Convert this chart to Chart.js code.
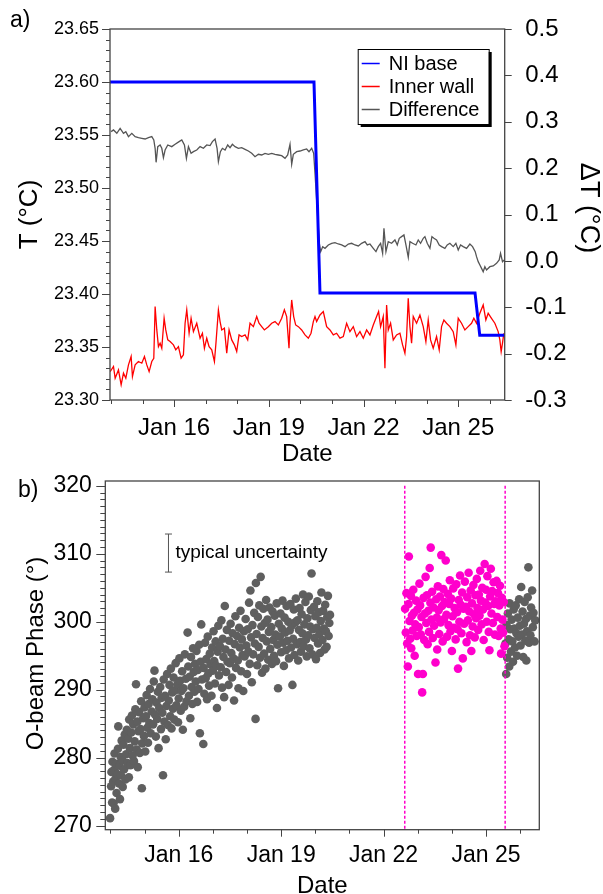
<!DOCTYPE html>
<html>
<head>
<meta charset="utf-8">
<script src="https://cdn.jsdelivr.net/npm/chart.js@4.4.1/dist/chart.umd.min.js"></script>
<style>
  html, body { margin: 0; padding: 0; background: #fff; }
  #wrap { position: relative; width: 603px; height: 894px; }
  canvas { position: absolute; left: 0; }
  #tempChart { top: 0; }
  #phaseChart { top: 470px; }
</style>
</head>
<body>
<div id="wrap">
  <canvas id="tempChart" width="603" height="470"></canvas>
  <canvas id="phaseChart" width="603" height="424"></canvas>
</div>
<script>
// x values are days of January (14.5 = Jan 14, 12:00)
const dayTicks = [14, 15, 16, 17, 18, 19, 20, 21, 22, 23, 24, 25, 26];
const labeledDays = [16, 19, 22, 25];
const tempTicks = [23.30, 23.35, 23.40, 23.45, 23.50, 23.55, 23.60, 23.65];
const deltaTicks = [-0.3, -0.2, -0.1, 0.0, 0.1, 0.2, 0.3, 0.4, 0.5];
const phaseTicks = [270, 280, 290, 300, 310, 320];

// panel a) NI base temperature, degC
const baseSeries = [
  [13.97, 23.600], [20.43, 23.600], [20.62, 23.401], [25.53, 23.401], [25.68, 23.361], [26.47, 23.361]
];

// panel a) inner wall temperature, degC
const wallSeries = [
  [13.975, 23.3268], [14.080, 23.3316], [14.133, 23.3206], [14.238, 23.3284], [14.323, 23.3143],
  [14.397, 23.3253], [14.471, 23.3206], [14.555, 23.3331], [14.639, 23.3410], [14.681, 23.3221],
  [14.766, 23.3331], [14.871, 23.3363], [14.977, 23.3347], [15.061, 23.3410], [15.135, 23.3331],
  [15.209, 23.3268], [15.293, 23.3363], [15.357, 23.3394], [15.399, 23.3881], [15.452, 23.3661],
  [15.504, 23.3504], [15.557, 23.3536], [15.610, 23.3488], [15.684, 23.3771], [15.736, 23.3661],
  [15.800, 23.3567], [15.873, 23.3551], [15.979, 23.3520], [16.053, 23.3473], [16.137, 23.3504],
  [16.222, 23.3394], [16.295, 23.3426], [16.348, 23.3724], [16.401, 23.3850], [16.475, 23.3630],
  [16.538, 23.3771], [16.612, 23.3645], [16.717, 23.3724], [16.823, 23.3583], [16.897, 23.3630],
  [16.960, 23.3488], [17.034, 23.3583], [17.108, 23.3504], [17.192, 23.3473], [17.277, 23.3363],
  [17.329, 23.3551], [17.403, 23.3850], [17.456, 23.3740], [17.509, 23.3661], [17.593, 23.3677],
  [17.667, 23.3441], [17.741, 23.3661], [17.825, 23.3567], [17.909, 23.3520], [17.983, 23.3457],
  [18.057, 23.3614], [18.141, 23.3598], [18.247, 23.3614], [18.331, 23.3567], [18.405, 23.3724],
  [18.511, 23.3692], [18.616, 23.3787], [18.690, 23.3724], [18.774, 23.3692], [18.859, 23.3661],
  [18.985, 23.3692], [19.091, 23.3724], [19.196, 23.3740], [19.302, 23.3708], [19.407, 23.3771],
  [19.492, 23.3850], [19.565, 23.3787], [19.639, 23.3488], [19.671, 23.3724], [19.724, 23.3944],
  [19.787, 23.3787], [19.850, 23.3708], [19.935, 23.3692], [20.040, 23.3661], [20.146, 23.3614],
  [20.251, 23.3583], [20.336, 23.3630], [20.409, 23.3740], [20.462, 23.3787], [20.514, 23.3740],
  [20.620, 23.3802], [20.725, 23.3834], [20.831, 23.3692], [20.936, 23.3661], [21.042, 23.3614],
  [21.147, 23.3630], [21.253, 23.3583], [21.358, 23.3598], [21.464, 23.3724], [21.569, 23.3645],
  [21.675, 23.3692], [21.780, 23.3598], [21.886, 23.3645], [21.991, 23.3583], [22.097, 23.3661],
  [22.202, 23.3614], [22.308, 23.3708], [22.413, 23.3787], [22.476, 23.3834], [22.540, 23.3692],
  [22.624, 23.3787], [22.677, 23.3300], [22.730, 23.3897], [22.782, 23.3661], [22.856, 23.3724],
  [22.941, 23.3567], [23.046, 23.3614], [23.152, 23.3630], [23.236, 23.3520], [23.310, 23.3441],
  [23.363, 23.3598], [23.415, 23.3960], [23.468, 23.3692], [23.521, 23.3536], [23.574, 23.3787],
  [23.679, 23.3724], [23.785, 23.3802], [23.890, 23.3692], [23.974, 23.3551], [24.048, 23.3755],
  [24.122, 23.3567], [24.206, 23.3488], [24.312, 23.3598], [24.396, 23.3473], [24.470, 23.3692],
  [24.544, 23.3755], [24.628, 23.3724], [24.734, 23.3692], [24.839, 23.3645], [24.924, 23.3520],
  [24.998, 23.3771], [25.103, 23.3724], [25.209, 23.3661], [25.314, 23.3692], [25.420, 23.3724],
  [25.493, 23.3771], [25.578, 23.3724], [25.683, 23.3818], [25.789, 23.3897], [25.873, 23.3755],
  [25.947, 23.3818], [26.052, 23.3771], [26.158, 23.3724], [26.263, 23.3645], [26.316, 23.3567],
  [26.358, 23.3457], [26.400, 23.3536], [26.443, 23.3630]
];

// panel a) difference, degC (right axis)
const diffSeries = [
  [14.006, 0.2787], [14.080, 0.2823], [14.186, 0.2751], [14.291, 0.2858], [14.397, 0.2751],
  [14.471, 0.2787], [14.555, 0.2679], [14.660, 0.2751], [14.766, 0.2679], [14.871, 0.2657],
  [14.977, 0.2643], [15.082, 0.2628], [15.188, 0.2657], [15.293, 0.2679], [15.357, 0.2607],
  [15.399, 0.2427], [15.430, 0.2125], [15.483, 0.2463], [15.557, 0.2499], [15.610, 0.2427],
  [15.662, 0.2226], [15.715, 0.2391], [15.800, 0.2499], [15.926, 0.2463], [16.032, 0.2513],
  [16.158, 0.2571], [16.243, 0.2607], [16.327, 0.2499], [16.390, 0.2211], [16.454, 0.2463],
  [16.538, 0.2319], [16.612, 0.2355], [16.717, 0.2391], [16.823, 0.2463], [16.928, 0.2427],
  [17.034, 0.2499], [17.139, 0.2485], [17.213, 0.2571], [17.298, 0.2628], [17.361, 0.2427],
  [17.403, 0.2140], [17.466, 0.2355], [17.530, 0.2427], [17.614, 0.2391], [17.698, 0.2499],
  [17.772, 0.2441], [17.846, 0.2513], [17.930, 0.2463], [18.036, 0.2427], [18.141, 0.2441],
  [18.247, 0.2405], [18.352, 0.2369], [18.458, 0.2319], [18.563, 0.2247], [18.669, 0.2298],
  [18.774, 0.2283], [18.880, 0.2319], [18.985, 0.2298], [19.091, 0.2319], [19.196, 0.2298],
  [19.302, 0.2283], [19.407, 0.2269], [19.513, 0.2211], [19.597, 0.2283], [19.671, 0.2513],
  [19.724, 0.2082], [19.776, 0.2298], [19.882, 0.2355], [19.988, 0.2369], [20.093, 0.2391],
  [20.198, 0.2413], [20.272, 0.2355], [20.357, 0.2427], [20.420, 0.2319], [20.462, 0.1888],
  [20.599, 0.0379], [20.642, 0.0199], [20.705, 0.0307], [20.779, 0.0271], [20.884, 0.0343],
  [20.990, 0.0379], [21.095, 0.0393], [21.201, 0.0364], [21.306, 0.0343], [21.412, 0.0307],
  [21.517, 0.0364], [21.623, 0.0379], [21.728, 0.0343], [21.834, 0.0321], [21.939, 0.0379],
  [22.045, 0.0415], [22.118, 0.0343], [22.203, 0.0364], [22.308, 0.0271], [22.393, 0.0199],
  [22.466, 0.0307], [22.540, 0.0379], [22.604, 0.0163], [22.646, 0.0702], [22.709, 0.0200],
  [22.783, 0.0415], [22.888, 0.0379], [22.994, 0.0451], [23.068, 0.0343], [23.131, 0.0487],
  [23.205, 0.0523], [23.279, 0.0559], [23.342, 0.0343], [23.416, 0.0077], [23.469, 0.0415],
  [23.553, 0.0379], [23.658, 0.0343], [23.732, 0.0451], [23.806, 0.0379], [23.891, 0.0487],
  [23.943, 0.0523], [24.017, 0.0379], [24.102, 0.0271], [24.165, 0.0523], [24.228, 0.0487],
  [24.312, 0.0451], [24.397, 0.0343], [24.471, 0.0307], [24.576, 0.0271], [24.650, 0.0343],
  [24.734, 0.0379], [24.840, 0.0307], [24.924, 0.0379], [24.998, 0.0235], [25.072, 0.0343],
  [25.156, 0.0307], [25.262, 0.0271], [25.367, 0.0364], [25.452, 0.0307], [25.536, 0.0199],
  [25.578, 0.0091], [25.631, -0.0017], [25.684, -0.0089], [25.737, -0.0161], [25.789, -0.0233],
  [25.842, -0.0125], [25.895, -0.0197], [26.001, -0.0125], [26.106, -0.0110], [26.211, -0.0053],
  [26.296, 0.0019], [26.338, 0.0163], [26.401, -0.0017], [26.454, 0.0019]
];

// panel b) O-beam phase, degrees
const phaseGray = [
  [13.99, 271.1], [14.02, 275.8], [14.03, 277.9], [14.05, 273.4], [14.06, 279.4], [14.08, 276.5], [14.09, 273.3],
  [14.11, 278.2], [14.12, 280.6], [14.14, 272.5], [14.15, 276.9], [14.17, 279.1], [14.18, 274.8], [14.2, 277.6],
  [14.22, 281.3], [14.23, 284.6], [14.25, 276.2], [14.26, 278.8], [14.28, 273.9], [14.3, 280.1], [14.31, 277.4],
  [14.33, 282.5], [14.35, 279.6], [14.36, 275.7], [14.38, 281.9], [14.4, 278.3], [14.42, 283.4], [14.44, 276.8],
  [14.46, 280.5], [14.48, 284.1], [14.5, 279.2], [14.52, 282.8], [14.54, 277.1], [14.55, 285.6], [14.57, 281.4],
  [14.59, 278.9], [14.61, 283.7], [14.63, 286.2], [14.65, 280.3], [14.67, 284.9], [14.69, 279.5],
  [14.71, 282.4], [14.73, 287.1], [14.75, 290.8], [14.77, 281.2], [14.79, 285.3], [14.8, 278.6], [14.82, 283.9],
  [14.84, 286.7], [14.86, 280.7], [14.88, 284.2], [14.9, 288.3], [14.92, 275.5], [14.93, 282.1],
  [14.96, 285.8], [14.98, 283.2], [15.0, 287.4], [15.02, 280.9], [15.04, 286.1], [15.06, 289.2], [15.08, 284.4],
  [15.1, 282.2], [15.12, 287.9], [15.14, 285.1], [15.16, 290.1], [15.18, 283.6],
  [15.21, 286.8], [15.23, 288.6], [15.25, 284.9], [15.27, 291.2], [15.29, 292.8], [15.31, 286.3], [15.33, 283.1],
  [15.35, 288.1], [15.37, 285.7], [15.39, 289.7], [15.41, 281.4], [15.43, 287.3],
  [15.46, 290.4], [15.48, 284.2], [15.5, 288.8], [15.52, 286.6], [15.54, 277.4], [15.56, 291.5], [15.58, 285.3],
  [15.6, 289.1], [15.62, 282.7], [15.64, 287.6], [15.66, 292.3], [15.68, 284.8],
  [15.71, 288.4], [15.73, 290.7], [15.75, 286.1], [15.77, 293.1], [15.79, 284.3], [15.81, 289.6], [15.83, 287.2],
  [15.85, 291.8], [15.87, 285.6], [15.89, 289.9], [15.91, 293.9], [15.93, 287.7],
  [15.96, 290.8], [15.98, 285.2], [16.0, 288.7], [16.02, 294.6], [16.04, 291.3], [16.06, 286.9], [16.08, 289.8],
  [16.1, 292.7], [16.12, 284.1], [16.14, 290.2], [16.16, 287.5], [16.18, 295.2],
  [16.21, 291.6], [16.23, 288.3], [16.26, 298.4], [16.28, 293.4], [16.3, 289.1], [16.32, 291.9], [16.34, 285.8],
  [16.36, 294.8], [16.38, 290.4], [16.4, 287.9], [16.42, 296.1], [16.44, 292.6],
  [16.46, 289.7], [16.48, 293.8], [16.5, 291.2], [16.52, 295.7], [16.54, 288.2], [16.56, 292.9], [16.58, 290.1],
  [16.6, 296.6], [16.62, 283.6], [16.64, 294.1], [16.66, 299.6], [16.68, 291.5],
  [16.72, 282.0], [16.73, 293.2], [16.75, 289.4], [16.77, 296.9], [16.79, 291.7], [16.81, 294.5], [16.83, 288.6],
  [16.85, 297.8], [16.87, 292.4], [16.89, 290.6], [16.91, 295.3], [16.93, 293.7],
  [16.96, 289.1], [16.98, 296.2], [17.0, 292.8], [17.02, 298.6], [17.04, 294.2], [17.06, 290.9], [17.08, 297.1],
  [17.1, 293.5], [17.12, 287.3], [17.14, 295.6], [17.16, 299.4], [17.18, 292.1],
  [17.21, 296.4], [17.23, 293.3], [17.25, 300.2], [17.27, 290.3], [17.29, 297.5], [17.31, 294.8], [17.33, 288.9],
  [17.35, 302.3], [17.37, 295.9], [17.39, 292.6], [17.41, 298.8], [17.43, 294.1],
  [17.46, 290.7], [17.48, 297.2], [17.5, 293.9], [17.52, 299.7], [17.54, 295.4], [17.56, 291.8], [17.58, 298.3],
  [17.6, 294.6], [17.62, 288.4], [17.64, 296.7], [17.66, 300.8], [17.68, 293.2],
  [17.71, 297.9], [17.73, 294.3], [17.75, 290.2], [17.77, 299.1], [17.79, 296.2], [17.81, 301.6], [17.83, 292.7],
  [17.85, 297.4], [17.87, 295.1], [17.89, 289.8], [17.91, 298.6], [17.93, 294.9],
  [17.96, 300.4], [17.98, 296.5], [18.0, 292.3], [18.02, 298.9], [18.04, 295.6], [18.06, 302.8], [18.08, 293.8],
  [18.1, 304.6], [18.12, 297.7], [18.14, 291.1], [18.16, 299.5], [18.18, 295.2],
  [18.21, 301.3], [18.23, 296.8], [18.25, 285.7], [18.26, 305.7], [18.28, 298.2], [18.3, 293.6], [18.32, 300.7],
  [18.34, 296.3], [18.36, 302.4], [18.38, 294.7], [18.4, 306.6], [18.42, 299.3], [18.44, 292.5],
  [18.46, 297.6], [18.48, 301.9], [18.5, 295.3], [18.52, 299.8], [18.54, 293.1], [18.56, 303.2], [18.58, 297.1],
  [18.6, 300.3], [18.62, 294.4], [18.64, 298.5], [18.66, 302.1], [18.68, 296.0],
  [18.71, 299.2], [18.73, 293.8], [18.75, 301.5], [18.77, 297.3], [18.79, 295.0], [18.81, 300.9], [18.83, 298.1],
  [18.85, 294.2], [18.87, 302.7], [18.89, 296.6], [18.91, 290.2], [18.93, 299.7],
  [18.96, 297.8], [18.98, 301.2], [19.0, 295.5], [19.02, 299.0], [19.04, 303.1], [19.06, 296.9], [19.08, 293.5],
  [19.1, 300.6], [19.12, 298.4], [19.14, 295.8], [19.16, 302.3], [19.18, 297.2],
  [19.21, 300.0], [19.23, 294.6], [19.25, 298.7], [19.27, 302.6], [19.29, 296.2], [19.31, 299.4], [19.33, 290.7],
  [19.35, 297.5], [19.37, 301.8], [19.39, 295.1], [19.41, 299.9], [19.43, 303.4],
  [19.46, 296.7], [19.48, 300.2], [19.5, 294.3], [19.52, 298.8], [19.54, 302.0], [19.56, 297.0], [19.58, 295.6],
  [19.6, 301.1], [19.62, 298.3], [19.64, 304.0], [19.66, 296.4], [19.68, 299.6],
  [19.71, 302.9], [19.73, 297.4], [19.75, 294.9], [19.77, 300.5], [19.79, 298.0], [19.81, 303.7], [19.83, 296.1],
  [19.85, 299.3], [19.87, 301.7], [19.89, 307.1], [19.91, 295.2], [19.93, 298.9],
  [19.96, 302.2], [19.98, 297.6], [20.0, 300.8], [20.02, 294.5], [20.04, 299.1], [20.06, 303.0], [20.08, 296.8],
  [20.1, 301.4], [20.12, 298.2], [20.14, 295.4], [20.16, 300.1], [20.18, 304.3],
  [20.21, 297.3], [20.23, 301.6], [20.25, 299.0], [20.27, 295.9], [20.29, 302.5], [20.31, 298.6], [20.33, 296.3],
  [20.35, 300.7], [20.37, 303.8], [20.39, 297.9], [20.41, 299.8], [20.43, 301.0],
  [25.57, 296.8], [25.59, 292.3], [25.6, 299.5], [25.62, 294.7], [25.64, 301.2], [25.66, 297.4], [25.68, 293.4],
  [25.69, 302.7], [25.71, 298.9], [25.73, 295.6], [25.75, 300.3], [25.77, 297.1], [25.79, 294.1], [25.81, 301.8],
  [25.83, 299.0], [25.85, 296.2], [25.87, 302.4], [25.89, 298.3], [25.91, 295.0], [25.93, 300.6], [25.95, 297.8],
  [25.97, 303.3], [25.99, 299.4], [26.01, 296.5], [26.03, 305.1], [26.05, 298.1], [26.07, 301.5], [26.09, 294.8],
  [26.11, 299.7], [26.13, 302.9], [26.15, 297.2], [26.17, 300.4], [26.18, 294.3], [26.2, 298.6], [26.22, 303.6],
  [26.24, 308.0], [26.26, 296.9], [26.28, 300.9], [26.3, 298.0], [26.32, 302.1], [26.35, 304.6], [26.37, 299.2],
  [26.39, 301.3], [26.42, 297.1], [26.44, 300.2]
];

const phaseMagenta = [
  [22.63, 301.9], [22.65, 298.4], [22.67, 304.2], [22.69, 296.8], [22.71, 293.4], [22.73, 302.6], [22.74, 309.6],
  [22.76, 300.1], [22.78, 297.5], [22.8, 303.8], [22.81, 296.1], [22.83, 300.9], [22.85, 298.7], [22.87, 304.7],
  [22.89, 301.3], [22.91, 295.0],
  [22.93, 299.6], [22.95, 303.1], [22.97, 297.9], [22.99, 301.8], [23.01, 292.3], [23.03, 299.2], [23.05, 305.6],
  [23.07, 302.4], [23.09, 298.1], [23.11, 300.7], [23.13, 289.6], [23.15, 292.3], [23.17, 303.5], [23.19, 297.3],
  [23.21, 301.2], [23.23, 306.6], [23.25, 299.8], [23.27, 303.9], [23.29, 296.7], [23.31, 301.6], [23.33, 298.5],
  [23.35, 307.9], [23.37, 302.8], [23.38, 310.9], [23.4, 300.3], [23.42, 304.4], [23.44, 297.6], [23.46, 302.1],
  [23.48, 299.4],
  [23.52, 294.0], [23.54, 303.3], [23.56, 300.6], [23.57, 295.9], [23.59, 305.2], [23.61, 301.7], [23.63, 298.2],
  [23.65, 303.7], [23.67, 299.9], [23.69, 309.8], [23.71, 302.3], [23.73, 297.1], [23.75, 304.8], [23.77, 300.4],
  [23.79, 302.9],
  [23.82, 309.0], [23.84, 301.0], [23.86, 297.8], [23.88, 304.1], [23.9, 299.5], [23.92, 302.6], [23.94, 306.1],
  [23.96, 298.6], [23.98, 303.4], [24.0, 295.7], [24.02, 300.8], [24.04, 304.9], [24.06, 299.1], [24.08, 302.0],
  [24.11, 297.4], [24.13, 305.5], [24.15, 301.4], [24.17, 298.9], [24.18, 293.1], [24.2, 303.2], [24.22, 300.0],
  [24.24, 306.8], [24.26, 302.5], [24.28, 298.3], [24.3, 304.3], [24.32, 294.6], [24.34, 301.9], [24.36, 299.7],
  [24.38, 305.9],
  [24.41, 302.2], [24.43, 297.0], [24.45, 303.6], [24.47, 300.2], [24.49, 307.2], [24.51, 301.5], [24.53, 298.0],
  [24.55, 304.6], [24.57, 295.7], [24.59, 302.7], [24.61, 299.3], [24.63, 305.4], [24.65, 301.1], [24.67, 297.7],
  [24.69, 303.9],
  [24.71, 300.5], [24.73, 306.3], [24.75, 302.0], [24.77, 298.8], [24.79, 304.0], [24.81, 300.9], [24.83, 307.5],
  [24.85, 303.1], [24.87, 299.6], [24.89, 305.0], [24.91, 301.8], [24.93, 297.3], [24.96, 308.5], [24.98, 302.8],
  [25.0, 304.7], [25.02, 300.0], [25.04, 306.7], [25.06, 302.3], [25.08, 298.5], [25.1, 295.8], [25.12, 303.7],
  [25.14, 307.8], [25.16, 301.2], [25.18, 304.5], [25.2, 299.8], [25.22, 305.8], [25.24, 302.6], [25.26, 298.1],
  [25.28, 303.0],
  [25.31, 306.0], [25.33, 300.7], [25.35, 304.2], [25.37, 297.9], [25.39, 302.4], [25.41, 305.3], [25.43, 299.0],
  [25.44, 295.3], [25.46, 303.5], [25.48, 300.3], [25.5, 298.4], [25.52, 302.9], [25.54, 296.4]
];

// dotted markers bounding the magenta interval
const markerDays = [22.62, 25.56];
// typical uncertainty bar: day, low, high
const uncertaintyBar = [15.70, 307.3, 312.9];

const FONT = "'Liberation Sans', Arial, Helvetica, sans-serif";
const AXIS = '#444';
const MAGENTA = '#ff00cc';

const toPoints = (pairs) => pairs.map(p => ({ x: p[0], y: p[1] }));
const dayLabel = (v) => labeledDays.includes(v) ? 'Jan ' + v : '';

function minorValues(from, to, step) {
  const out = [];
  for (let v = from; v <= to + step / 2; v += step) out.push(Math.round(v * 1000) / 1000);
  return out;
}

function tickMarks(ctx, scale, values, len) {
  ctx.beginPath();
  values.forEach(v => {
    const p = Math.round(scale.getPixelForValue(v)) + 0.5;
    if (scale.isHorizontal()) {
      ctx.moveTo(p, scale.top); ctx.lineTo(p, scale.top + len);
    } else if (scale.position === 'left') {
      ctx.moveTo(scale.right - len, p); ctx.lineTo(scale.right, p);
    } else {
      ctx.moveTo(scale.left, p); ctx.lineTo(scale.left + len, p);
    }
  });
  ctx.stroke();
}

function drawText(ctx, text, x, y, size, angle, align) {
  ctx.save();
  ctx.translate(x, y);
  ctx.rotate(angle || 0);
  ctx.font = size + 'px ' + FONT;
  ctx.fillStyle = '#000';
  ctx.textAlign = align || 'center';
  ctx.textBaseline = 'alphabetic';
  ctx.fillText(text, 0, 0);
  ctx.restore();
}

function drawFrame(ctx, area) {
  ctx.strokeStyle = AXIS;
  ctx.lineWidth = 1.3;
  ctx.strokeRect(area.left, area.top, area.right - area.left, area.bottom - area.top);
}

// frame, tick marks, titles and legend for panel a)
const tempDecor = {
  id: 'tempDecor',
  afterDraw(chart) {
    const { ctx, chartArea, scales } = chart;
    drawFrame(ctx, chartArea);
    ctx.lineWidth = 1;
    tickMarks(ctx, scales.y, tempTicks, 8);
    tickMarks(ctx, scales.y, minorValues(23.30, 23.65, 0.01), 4);
    tickMarks(ctx, scales.y2, deltaTicks, 7);
    tickMarks(ctx, scales.x, labeledDays, 7);
    tickMarks(ctx, scales.x, dayTicks, 4);

    drawText(ctx, 'a)', 10, 27, 23, 0, 'left');
    drawText(ctx, 'T (\u00B0C)', 36.5, (chartArea.top + chartArea.bottom) / 2, 26, -Math.PI / 2);
    drawText(ctx, '\u0394T (\u00B0C)', 581, 208, 27, Math.PI / 2);
    drawText(ctx, 'Date', (chartArea.left + chartArea.right) / 2, 461, 24);

    // legend box with drop shadow
    const lx = chartArea.right - 147, ly = chartArea.top + 20, lw = 131, lh = 75;
    ctx.fillStyle = '#000';
    ctx.fillRect(lx + 3, ly + 3, lw, lh);
    ctx.fillStyle = '#fff';
    ctx.fillRect(lx, ly, lw, lh);
    ctx.strokeStyle = '#000';
    ctx.lineWidth = 1;
    ctx.strokeRect(lx + 0.5, ly + 0.5, lw, lh);
    chart.data.datasets.forEach((ds, i) => {
      const y = ly + 14 + i * 23;
      ctx.strokeStyle = ds.borderColor;
      ctx.lineWidth = 1.5;
      ctx.beginPath();
      ctx.moveTo(lx + 4, y + 0.5);
      ctx.lineTo(lx + 22, y + 0.5);
      ctx.stroke();
      ctx.font = '20px ' + FONT;
      ctx.fillStyle = '#000';
      ctx.textAlign = 'left';
      ctx.textBaseline = 'middle';
      ctx.fillText(ds.label, lx + 31, y + 1);
    });
  }
};

// frame, tick marks, titles and note for panel b)
const phaseDecor = {
  id: 'phaseDecor',
  afterDraw(chart) {
    const { ctx, chartArea, scales } = chart;
    drawFrame(ctx, chartArea);
    ctx.lineWidth = 1;
    tickMarks(ctx, scales.y, phaseTicks, 9);
    tickMarks(ctx, scales.y, minorValues(270, 320, 1), 5);
    tickMarks(ctx, scales.x, labeledDays, 7);
    tickMarks(ctx, scales.x, dayTicks, 4);

    drawText(ctx, 'b)', 18, 27, 23, 0, 'left');
    drawText(ctx, 'O-beam Phase (\u00B0)', 42.5, 183.5, 24, -Math.PI / 2);
    drawText(ctx, 'Date', (chartArea.left + chartArea.right) / 2, 423, 24);

    const bx = scales.x.getPixelForValue(uncertaintyBar[0]);
    const by = scales.y.getPixelForValue((uncertaintyBar[1] + uncertaintyBar[2]) / 2);
    ctx.font = '19px ' + FONT;
    ctx.fillStyle = '#000';
    ctx.textAlign = 'left';
    ctx.textBaseline = 'middle';
    ctx.fillText('typical uncertainty', bx + 7, by);
  }
};

const lineStyle = { showLine: true, pointRadius: 0, tension: 0, borderWidth: 1.3 };
const hiddenGrid = { display: false, drawTicks: false };

new Chart(document.getElementById('tempChart'), {
  type: 'scatter',
  data: {
    datasets: [
      { ...lineStyle, label: 'NI base', data: toPoints(baseSeries), yAxisID: 'y', borderColor: '#0000ff', borderWidth: 3 },
      { ...lineStyle, label: 'Inner wall', data: toPoints(wallSeries), yAxisID: 'y', borderColor: '#ff0000' },
      { ...lineStyle, label: 'Difference', data: toPoints(diffSeries), yAxisID: 'y2', borderColor: '#555555' },
    ]
  },
  options: {
    responsive: false,
    animation: false,
    events: [],
    layout: { padding: { top: 29, left: 0, right: 0, bottom: 0 } },
    plugins: { legend: { display: false }, tooltip: { enabled: false } },
    scales: {
      x: {
        type: 'linear', position: 'bottom', min: 13.97, max: 26.47,
        grid: hiddenGrid, border: { display: false },
        afterBuildTicks: s => { s.ticks = dayTicks.map(value => ({ value })) },
        afterFit: s => { s.height = 70; s.paddingLeft = 0; s.paddingRight = 0 },
        ticks: { autoSkip: false, maxRotation: 0, padding: 14, color: '#000', font: { family: FONT, size: 24 }, callback: dayLabel }
      },
      y: {
        type: 'linear', position: 'left', min: 23.30, max: 23.65,
        grid: hiddenGrid, border: { display: false },
        afterBuildTicks: s => { s.ticks = tempTicks.map(value => ({ value })) },
        afterFit: s => { s.width = 110; s.paddingTop = 0; s.paddingBottom = 0 },
        ticks: { padding: 11, color: '#000', font: { family: FONT, size: 18 }, callback: v => v.toFixed(2) }
      },
      y2: {
        type: 'linear', position: 'right', min: -0.3, max: 0.5,
        grid: hiddenGrid, border: { display: false },
        afterBuildTicks: s => { s.ticks = deltaTicks.map(value => ({ value })) },
        afterFit: s => { s.width = 98.3; s.paddingTop = 0; s.paddingBottom = 0 },
        ticks: { padding: 20.5, color: '#000', font: { family: FONT, size: 24 }, callback: v => v.toFixed(1) }
      }
    }
  },
  plugins: [tempDecor]
});

new Chart(document.getElementById('phaseChart'), {
  type: 'scatter',
  data: {
    datasets: [
      {
        label: 'uncertainty', data: [{ x: uncertaintyBar[0], y: uncertaintyBar[1] }, { x: uncertaintyBar[0], y: uncertaintyBar[2] }],
        showLine: true, borderColor: '#555', borderWidth: 1, pointStyle: 'line', pointRadius: 3.5, pointBorderWidth: 1, pointBorderColor: '#555'
      },
      ...markerDays.map(d => ({
        label: 'marker', data: [{ x: d, y: 320 }, { x: d, y: 269.4 }],
        showLine: true, pointRadius: 0, borderColor: MAGENTA, borderWidth: 1.5, borderDash: [3, 2]
      })),
      { label: 'magenta', data: toPoints(phaseMagenta), pointRadius: 4.3, pointBorderWidth: 0, backgroundColor: MAGENTA, borderColor: MAGENTA },
      { label: 'gray', data: toPoints(phaseGray), pointRadius: 4.3, pointBorderWidth: 0, backgroundColor: '#5f5f5f', borderColor: '#5f5f5f' },
    ]
  },
  options: {
    responsive: false,
    animation: false,
    events: [],
    layout: { padding: { top: 11, left: 0, right: 63.7, bottom: 0 } },
    plugins: { legend: { display: false }, tooltip: { enabled: false } },
    scales: {
      x: {
        type: 'linear', position: 'bottom', min: 13.85, max: 26.56,
        grid: hiddenGrid, border: { display: false },
        afterBuildTicks: s => { s.ticks = dayTicks.map(value => ({ value })) },
        afterFit: s => { s.height = 64.3; s.paddingLeft = 0; s.paddingRight = 0 },
        ticks: { autoSkip: false, maxRotation: 0, padding: 12, color: '#000', font: { family: FONT, size: 23 }, callback: dayLabel }
      },
      y: {
        type: 'linear', position: 'left', min: 269.4, max: 320.7,
        grid: hiddenGrid, border: { display: false },
        afterBuildTicks: s => { s.ticks = phaseTicks.map(value => ({ value })) },
        afterFit: s => { s.width = 105.3; s.paddingTop = 0; s.paddingBottom = 0 },
        ticks: { padding: 13.5, color: '#000', font: { family: FONT, size: 23 } }
      }
    }
  },
  plugins: [phaseDecor]
});
</script>
</body>
</html>
